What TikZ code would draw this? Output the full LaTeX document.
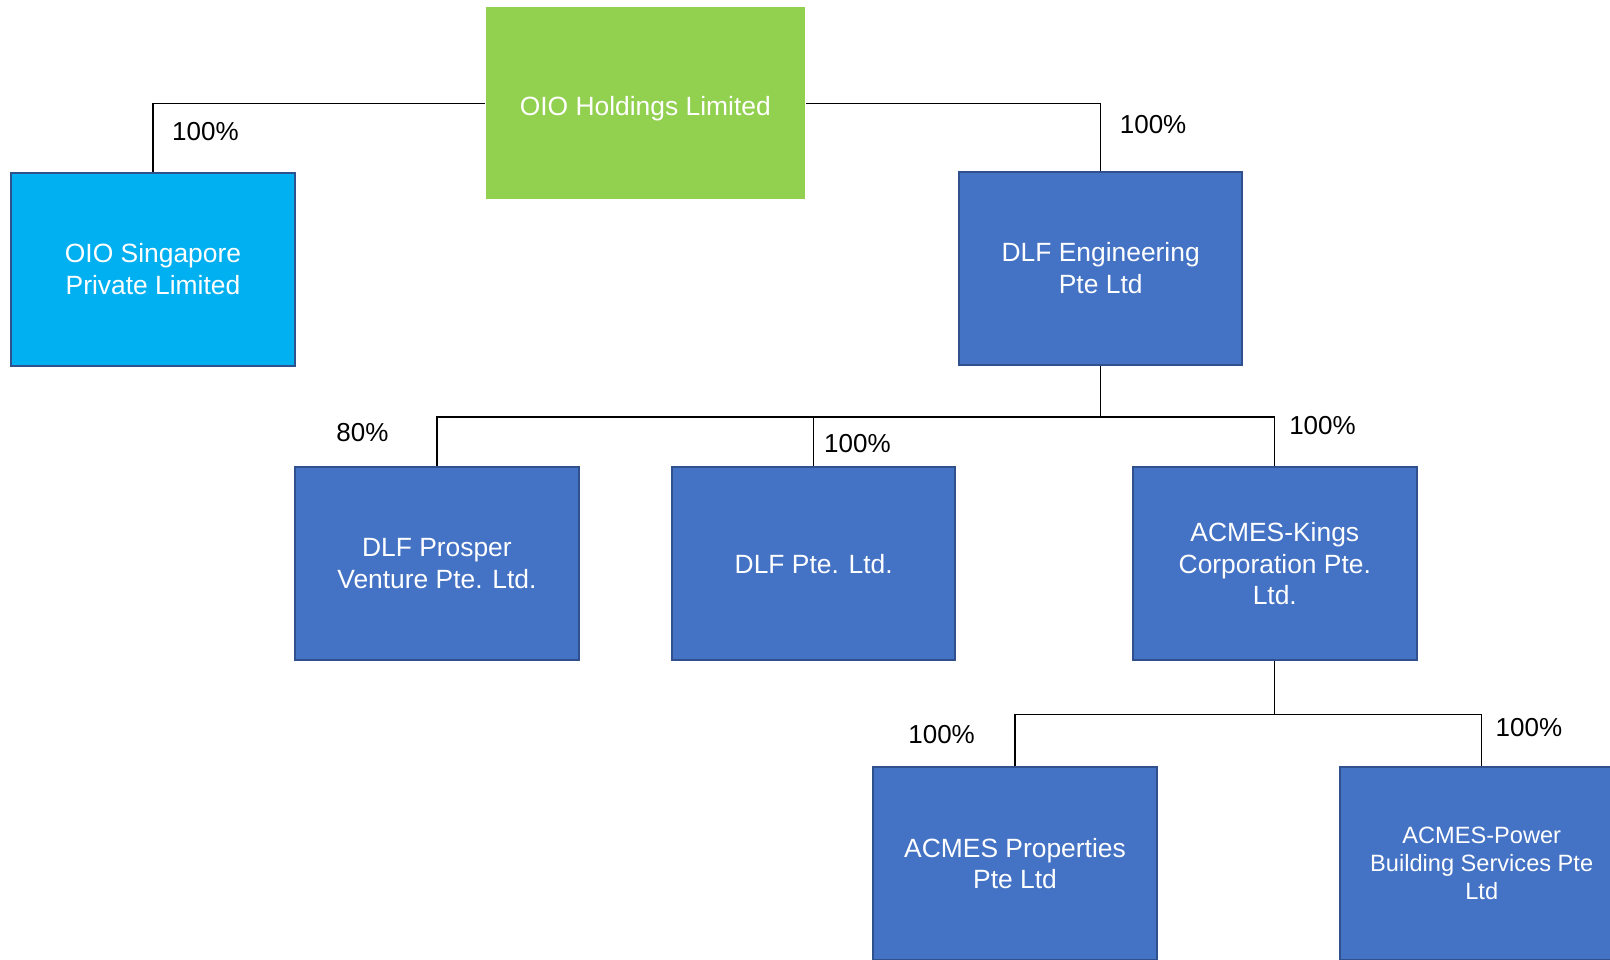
\documentclass[tikz,border=0pt]{standalone}
\usepackage{fontspec}
\setmainfont{Liberation Sans}
\usetikzlibrary{positioning}

\definecolor{topgreen}{HTML}{92D050}
\definecolor{skyblue}{HTML}{00B0F0}
\definecolor{boxblue}{HTML}{4472C4}
\definecolor{edgeblue}{HTML}{2F528F}

\begin{document}
\begin{tikzpicture}[
      x=0.5pt,y=-0.5pt,
      co/.style={rectangle,draw=edgeblue,line width=1pt,fill=boxblue,text=white,minimum width=141.7pt,minimum height=96.5pt,inner sep=0pt,align=center,font=\fontsize{13.2}{15.9}\selectfont},
      pct/.style={inner sep=0pt,font=\fontsize{13}{15.6}\selectfont},
      link/.style={line width=0.6pt}
    ]
    \clip (0,0) rectangle (1610,959);

    \node[co,fill=topgreen,draw=none,minimum width=159.7pt,minimum height=96pt] (OIO) at (645.3,103.2) {\raisebox{-2.5pt}[\height][\depth]{OIO Holdings Limited}};
    \node[co,fill=skyblue] (SG) at (153,269) {OIO Singapore\\Private Limited};
    \node[co] (DLFE) at (1100.7,268) {DLF Engineering\\Pte Ltd};
    \node[co] (DLFPV) at (436.9,563.7) {DLF Prosper\\Venture Pte. Ltd.};
    \node[co] (DLFP) at (813.7,563.7) {DLF Pte. Ltd.};
    \node[co] (AK) at (1274.8,563.7) {ACMES-Kings\\Corporation Pte.\\Ltd.};
    \node[co] (AP) at (1015,863.5) {ACMES Properties\\Pte Ltd};
    \node[co,font=\fontsize{11.8}{13.9}\selectfont] (APB) at (1481.7,863.5) {ACMES-Power\\Building Services Pte\\Ltd};

    \draw[link] (OIO.west) -| (SG.north);
    \draw[link] (OIO.east) -| (DLFE.north);

    \draw[link] (DLFE.south) -- ++(0,51.4) coordinate (busE);
    \draw[link] (busE) -| (DLFPV.north);
    \draw[link] (busE) -| (AK.north);
    \draw[link] (DLFP.north) -- (DLFP.north |- busE);

    \draw[link] (AK.south) -- ++(0,53.4) coordinate (busK);
    \draw[link] (busK) -| (AP.north);
    \draw[link] (busK) -| (APB.north);

    \node[pct] (pSG) at (205.4,131.4) {100\%};
    \node[pct] (pDLFE) at (1153.1,124.2) {100\%};
    \node[pct] (pDLFPV) at (362.5,432.3) {80\%};
    \node[pct] (pDLFP) at (857.4,443.6) {100\%};
    \node[pct] (pAK) at (1322.5,425.1) {100\%};
    \node[pct] (pAP) at (941.6,734.2) {100\%};
    \node[pct] (pAPB) at (1528.9,728) {100\%};
  \end{tikzpicture}
\end{document}
